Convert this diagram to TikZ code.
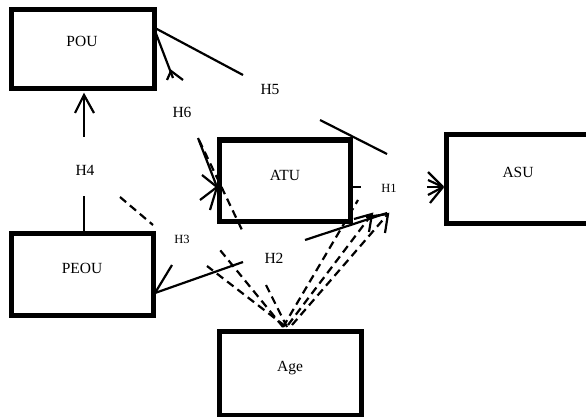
\documentclass[tikz,border=0pt]{standalone}
\usepackage{fontspec}
\setmainfont{Liberation Serif}
\begin{document}
\begin{tikzpicture}[x=1pt,y=-1pt,
  box/.style={draw, line width=5pt, rectangle, inner sep=0pt, outer sep=0pt},
  txt/.style={font=\fontsize{15.5}{18}\selectfont, anchor=base, inner sep=0pt},
  stxt/.style={font=\fontsize{12.5}{15}\selectfont, anchor=base, inner sep=0pt},
  conn/.style={line width=2.2pt},
  dconn/.style={line width=2.2pt, dash pattern=on 8pt off 5pt}]
\useasboundingbox (0,0) rectangle (586,417);
\clip (0,0) rectangle (586,417);
\fill[white] (0,0) rectangle (586,417);

% boxes
\node[box, minimum width=143pt, minimum height=79pt] (pou) at (82.5,49.5) {};
\node[box, minimum width=131pt, minimum height=81pt] (atu) at (284.5,180.5) {};
\node[box, minimum width=144pt, minimum height=88pt] (asu) at (518,179) {};
\node[box, minimum width=142pt, minimum height=82pt] (peou) at (82,274) {};
\node[box, minimum width=142pt, minimum height=84pt] (age) at (290,373) {};

% box texts
\node[txt] (pout) at (82,47) {POU};
\node[txt] (atut) at (285,180) {ATU};
\node[txt] (asut) at (518,177) {ASU};
\node[txt] (peout) at (82,273) {PEOU};
\node[txt] (aget) at (290,371) {Age};

% hypothesis labels
\node[txt] (h5) at (270,95) {H5};
\node[txt] (h6) at (182,118) {H6};
\node[txt] (h4) at (85,175) {H4};
\node[stxt] (h1) at (389,192) {H1};
\node[stxt] (h3) at (182,243) {H3};
\node[txt] (h2) at (274,263) {H2};

% named points
\coordinate (h4a) at (84,233); \coordinate (h4b) at (84,196);
\coordinate (h4c) at (84,137); \coordinate (h4tip) at (84,95);
\coordinate (h4l) at (75,113); \coordinate (h4r) at (94,113);

\coordinate (h5a) at (155,28); \coordinate (h5b) at (243,75);
\coordinate (h5c) at (320,120); \coordinate (h5d) at (387,154);

\coordinate (h6a) at (155,31); \coordinate (h6b) at (173,78);
\coordinate (h6tip) at (171,71); \coordinate (h6l) at (167,80); \coordinate (h6r) at (183,80);
\coordinate (h6c) at (198,138); \coordinate (h6tip2) at (217,187);
\coordinate (h6s1) at (202,175); \coordinate (h6s2) at (200,200); \coordinate (h6s3) at (210,210);

\coordinate (h1a) at (352,187); \coordinate (h1b) at (361,187);
\coordinate (asutip) at (443,187);
\coordinate (as1) at (428,172); \coordinate (as2) at (428,180); \coordinate (as3) at (427,187);
\coordinate (as4) at (428,195); \coordinate (as5) at (430,203);

\coordinate (h2a) at (155,293); \coordinate (h2b) at (243,262);
\coordinate (h2c) at (305,240); \coordinate (h2d) at (387,213);
\coordinate (h2l) at (172,265);

\coordinate (da1) at (199,140); \coordinate (da2) at (242,230);
\coordinate (da3) at (266,285); \coordinate (da4) at (287,327);
\coordinate (db1) at (120,197); \coordinate (db2) at (153,225);
\coordinate (db3) at (207,266); \coordinate (db4) at (285,326);
\coordinate (dc1) at (220,250); \coordinate (dc2) at (283,327);
\coordinate (dd1) at (283,327); \coordinate (dd2) at (358,200);
\coordinate (de1) at (288,325); \coordinate (de2) at (372,214);
\coordinate (del) at (354,219); \coordinate (der) at (369,232);
\coordinate (df1) at (292,325); \coordinate (df2) at (388,214);
\coordinate (dfl) at (366,217); \coordinate (dfr) at (385,233);

% solid connectors
\draw[conn] (h4a) -- (h4b);
\draw[conn] (h4c) -- (h4tip);
\draw[conn] (h4l) -- (h4tip) -- (h4r);

\draw[conn] (h5a) -- (h5b);
\draw[conn] (h5c) -- (h5d);

\draw[conn] (h6a) -- (h6b);
\draw[conn] (h6l) -- (h6tip) -- (h6r);
\draw[conn] (h6c) -- (h6tip2);
\draw[conn] (h6s1) -- (h6tip2) -- (h6s2);
\draw[conn] (h6tip2) -- (h6s3);

\draw[conn] (h1a) -- (h1b);
\foreach \s in {as1,as2,as3,as4,as5} \draw[conn] (\s) -- (asutip);

\draw[conn] (h2a) -- (h2b);
\draw[conn] (h2c) -- (h2d);
\draw[conn] (h2a) -- (h2l);

% dashed connectors (moderator Age)
\draw[dconn] (da1) -- (da2);
\draw[dconn] (da4) -- (da3);
\draw[dconn] (db1) -- (db2);
\draw[dconn] (db4) -- (db3);
\draw[dconn] (dc2) -- (dc1);
\draw[dconn] (dd1) -- (dd2);
\draw[dconn] (de1) -- (de2);
\draw[conn] (del) -- (de2) -- (der);
\draw[dconn] (df1) -- (df2);
\draw[conn] (dfl) -- (df2) -- (dfr);
\end{tikzpicture}
\end{document}
